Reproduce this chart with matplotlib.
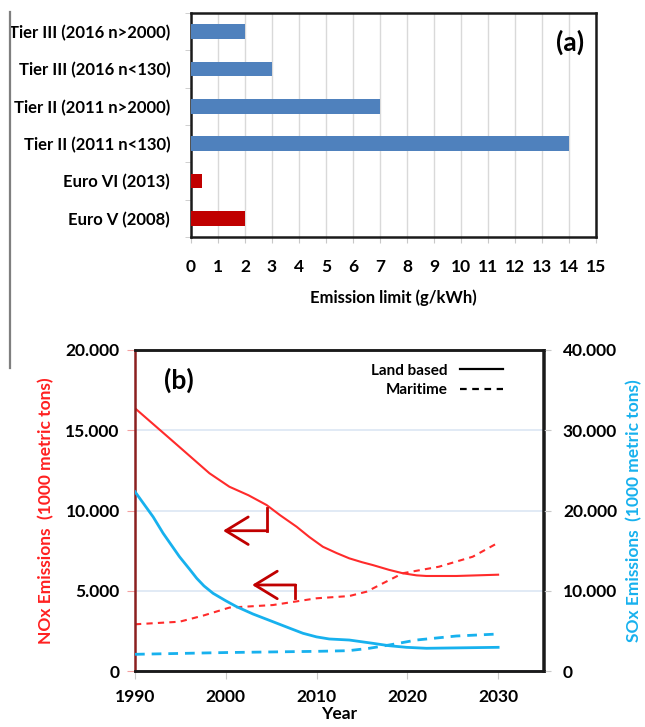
import numpy as np
import matplotlib
matplotlib.use("Agg")
import matplotlib.pyplot as plt
from matplotlib.lines import Line2D
from matplotlib.ticker import FuncFormatter, MultipleLocator

plt.rcParams['font.family'] = ['Lato', 'DejaVu Sans']

# ---- panel (a) data: emission limits
standards = ['Euro V (2008)', 'Euro VI (2013)', 'Tier II (2011 n<130)',
             'Tier II (2011 n>2000)', 'Tier III (2016 n<130)', 'Tier III (2016 n>2000)']
limits = [2.0, 0.4, 14.0, 7.0, 3.0, 2.0]
bar_colors = ['#c00000', '#c00000', '#4f81bd', '#4f81bd', '#4f81bd', '#4f81bd']

# ---- panel (b) data: emissions (1000 metric tons)
yr_nox_land = [1990, 1994, 1998.2, 2000.4, 2002.5, 2004.5, 2006, 2007.8, 2009.2, 2010.7,
               2012.2, 2013.6, 2015, 2016.2, 2018, 2019.5, 2021, 2022.1, 2025.4, 2030]
nox_land = [16370, 14400, 12320, 11480, 10950, 10340, 9700, 8990, 8350, 7740,
            7350, 7020, 6780, 6600, 6300, 6090, 5960, 5920, 5920, 6000]
yr_nox_mar = [1990, 1994.9, 1997.5, 2000.4, 2005.2, 2010, 2013.6, 2015.5, 2017.3,
              2019.5, 2023.5, 2027.2, 2030]
nox_mar = [2910, 3070, 3450, 3950, 4110, 4530, 4670, 4940, 5460,
           6090, 6500, 7120, 7990]
yr_sox_land = [1990, 1992, 1993.1, 1994.9, 1996, 1996.8, 1997.6, 1998.6, 2000, 2001.2,
               2003, 2005.2, 2007, 2008.5, 2010, 2011.4, 2013.6, 2016.2, 2018,
               2019.9, 2022.1, 2030]
sox_land = [22340, 19200, 17160, 14240, 12700, 11550, 10600, 9680, 8750, 8010,
            7100, 6140, 5350, 4700, 4250, 3990, 3860, 3450, 3150,
            2950, 2830, 2950]
yr_sox_mar = [1990, 2000, 2010, 2013.5, 2015.8, 2018, 2021, 2025.4, 2030]
sox_mar = [2080, 2300, 2450, 2530, 2830, 3240, 3860, 4360, 4610]

RED = '#ff2b2b'
BLUE = '#17b1ee'
DARKRED = '#c00000'

fig = plt.figure(figsize=(6.45, 7.27), dpi=100)

# stray frame line at the left edge
fig.add_artist(Line2D([9.5/645, 9.5/645], [1-12/727, 1-368/727], color='#7f7f7f', lw=1.6))

# ================= (a)
ax = fig.add_axes([191/645, 1-237/727, 405/645, 224/727])
ypos = np.arange(len(standards))
ax.barh(ypos, limits, height=0.4, color=bar_colors, zorder=3)
ax.set_xlim(0, 15)
ax.set_ylim(-0.5, len(standards)-0.5)
ax.set_xticks(range(16))
ax.set_yticks(ypos)
ax.set_yticklabels(standards, fontsize=12, fontweight='bold')
ax.yaxis.set_minor_locator(MultipleLocator(1, offset=0.5))
ax.tick_params(axis='y', which='major', length=0, pad=15)
ax.tick_params(axis='y', which='minor', length=4, color='#c8c8c8')
ax.tick_params(axis='x', length=4, color='#c8c8c8', labelsize=12.5, pad=12)
for lab in ax.get_xticklabels():
    lab.set_fontweight('bold')
ax.grid(axis='x', color='#d9d9d9', lw=1, zorder=0)
for s in ax.spines.values():
    s.set_linewidth(1.8)
    s.set_color('#1a1a1a')
ax.set_xlabel('Emission limit (g/kWh)', fontsize=12, fontweight='bold', labelpad=10)
ax.text(0.935, 0.87, '(a)', transform=ax.transAxes, fontsize=19, fontweight='bold',
        ha='center', va='center')

# ================= (b)
ax1 = fig.add_axes([135/645, 1-671/727, 408.5/645, 321/727])
ax2 = ax1.twinx()
ax1.plot(yr_nox_land, nox_land, color=RED, lw=1.5)
ax1.plot(yr_nox_mar, nox_mar, color=RED, lw=1.5, dashes=(3, 2.5))
ax2.plot(yr_sox_land, sox_land, color=BLUE, lw=2)
ax2.plot(yr_sox_mar, sox_mar, color=BLUE, lw=2, dashes=(3.5, 2.5))

ax1.set_xlim(1990, 2035)
ax1.set_ylim(0, 20000)
ax2.set_ylim(0, 40000)
ax1.set_xticks([1990, 2000, 2010, 2020, 2030])
ax1.set_yticks(np.arange(0, 20001, 5000))
ax2.set_yticks(np.arange(0, 40001, 10000))
fmt = FuncFormatter(lambda v, p: '0' if v == 0 else f'{int(v):,}'.replace(',', '.'))
ax1.yaxis.set_major_formatter(fmt)
ax2.yaxis.set_major_formatter(fmt)
ax1.yaxis.grid(True, color='#dce6f4', lw=1.2)
ax1.set_axisbelow(True)
ax1.tick_params(axis='y', length=6, color='#f4a0a0', labelsize=12.5, pad=5)
ax2.tick_params(axis='y', length=6, color='#c8c8c8', labelsize=12.5, pad=8)
ax1.tick_params(axis='x', length=6, color='#c8c8c8', labelsize=12.5, pad=7)
for a in (ax1, ax2):
    for lab in a.get_xticklabels() + a.get_yticklabels():
        lab.set_fontweight('bold')
for s in ['top', 'right', 'bottom']:
    ax1.spines[s].set_color('#1a1a1a')
    ax1.spines[s].set_linewidth(1.8)
    ax2.spines[s].set_color('#1a1a1a')
    ax2.spines[s].set_linewidth(1.8)
ax1.spines['left'].set_color('#8b2020')
ax1.spines['left'].set_linewidth(1.8)
ax2.spines['left'].set_visible(False)

ax1.set_ylabel('NOx Emissions  (1000 metric tons)', color='#ff2020', fontsize=12.5,
               fontweight='bold', labelpad=8)
ax2.set_ylabel('SOx Emissions  (1000 metric tons)', color=BLUE, fontsize=12.5,
               fontweight='bold', labelpad=6)
ax1.set_xlabel('Year', fontsize=12.5, fontweight='bold', labelpad=1)
ax1.text(0.107, 0.907, '(b)', transform=ax1.transAxes, fontsize=19, fontweight='bold',
         ha='center', va='center')

# pointer arrows (both series belong to the left axis)
ax1.plot([2004.5, 2004.5], [10140, 8740], color=DARKRED, lw=2)
ax1.annotate('', xy=(1999.7, 8740), xytext=(2004.6, 8740),
             arrowprops=dict(arrowstyle='->,head_length=0.9,head_width=0.55',
                             color=DARKRED, lw=2, mutation_scale=18, shrinkA=0, shrinkB=0))
ax1.plot([2007.6, 2007.6], [5360, 4530], color=DARKRED, lw=2)
ax1.annotate('', xy=(2002.9, 5360), xytext=(2007.7, 5360),
             arrowprops=dict(arrowstyle='->,head_length=0.9,head_width=0.55',
                             color=DARKRED, lw=2, mutation_scale=18, shrinkA=0, shrinkB=0))

handles = [Line2D([], [], color='black', lw=1.6),
           Line2D([], [], color='black', lw=1.6, dashes=(3, 2.5))]
ax1.legend(handles, ['Land based', 'Maritime'], loc='upper left',
           bbox_to_anchor=(0.545, 1.0), frameon=False, markerfirst=False,
           prop={'size': 11, 'weight': 'bold'}, handlelength=2.8, labelspacing=0.35)

fig.savefig('out.png', dpi=100)
